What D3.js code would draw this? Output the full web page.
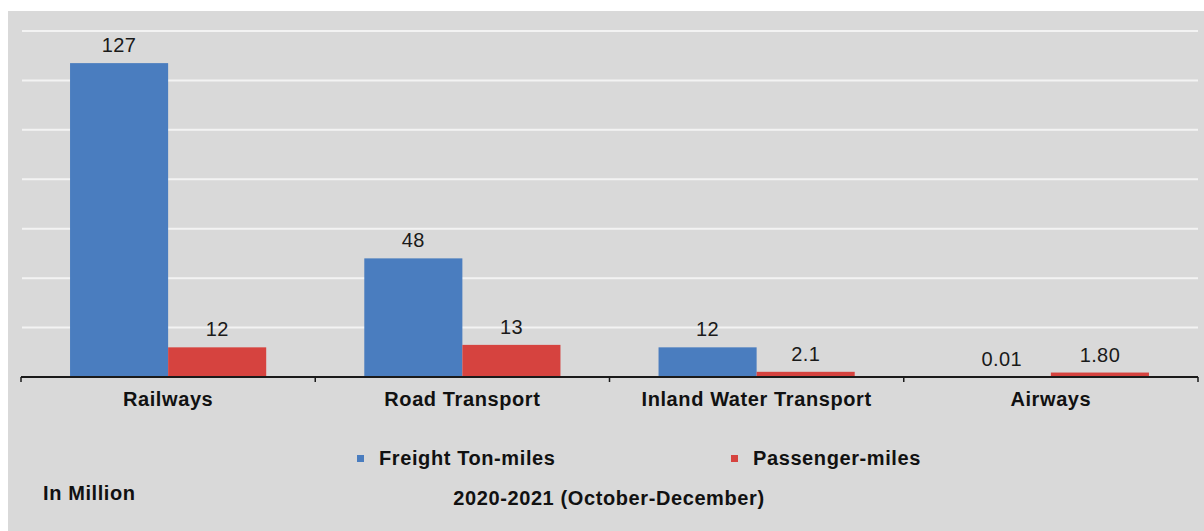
<!DOCTYPE html>
<html><head><meta charset="utf-8">
<script src="https://cdn.jsdelivr.net/npm/d3@7"></script>
<style>body{margin:0;background:#fff}svg{display:block}text{font-family:"Liberation Sans",Arial,sans-serif}</style>
</head><body><svg id="c" width="1204" height="531"></svg>
<script>
const categories = ["Railways", "Road Transport", "Inland Water Transport", "Airways"];
const seriesNames = ["Freight Ton-miles", "Passenger-miles"];
const freight = [127, 48, 12, 0.01];
const passenger = [12, 13, 2.1, 1.80];
const freightLabels = ["127", "48", "12", "0.01"];
const passengerLabels = ["12", "13", "2.1", "1.80"];
const gridTicks = [20, 40, 60, 80, 100, 120, 140];
const colors = ["#4a7dbf", "#d6433f"];

const svg = d3.select("#c");
svg.append("rect").attr("x", 8).attr("y", 11).attr("width", 1196).attr("height", 520).attr("fill", "#d9d9d9");

const x = d3.scaleBand().domain(categories).range([21, 1198]).paddingInner(0).paddingOuter(0);
const xs = d3.scaleBand().domain(seriesNames).range([0, x.bandwidth()]).paddingInner(0).paddingOuter(0.5);
const y = d3.scaleLinear().domain([0, 140]).range([377, 31]);

svg.append("g").selectAll("line").data(gridTicks).join("line")
  .attr("x1", 22).attr("x2", 1198)
  .attr("y1", d => y(d)).attr("y2", d => y(d))
  .attr("stroke", "#f3f3f3").attr("stroke-width", 2);

const rows = categories.map((c, i) => ({c, vals: [
  {s: seriesNames[0], v: freight[i], l: freightLabels[i], k: 0},
  {s: seriesNames[1], v: passenger[i], l: passengerLabels[i], k: 1}]}));

const g = svg.append("g").selectAll("g").data(rows).join("g")
  .attr("transform", d => `translate(${x(d.c)},0)`);
g.selectAll("rect").data(d => d.vals).join("rect")
  .attr("x", d => xs(d.s)).attr("width", xs.bandwidth())
  .attr("y", d => y(d.v)).attr("height", d => y(0) - y(d.v))
  .attr("fill", d => colors[d.k]);
g.selectAll("text").data(d => d.vals).join("text")
  .attr("x", d => xs(d.s) + xs.bandwidth() / 2)
  .attr("y", d => y(d.v) - 11)
  .attr("text-anchor", "middle").attr("font-size", 20).attr("letter-spacing", 0.4).attr("fill", "#1a1a1a")
  .text(d => d.l);

// axis
const ax = svg.append("g").attr("transform", "translate(0,377)");
ax.append("line").attr("x1", 21).attr("x2", 1198).attr("stroke", "#1a1a1a").attr("stroke-width", 2);
const bounds = categories.map(c => x(c)).concat([x.range()[1]]);
ax.selectAll("line.t").data(bounds).join("line").attr("class", "t")
  .attr("x1", d => d).attr("x2", d => d).attr("y1", 0).attr("y2", 5)
  .attr("stroke", "#1a1a1a").attr("stroke-width", 1.5);
ax.selectAll("text").data(categories).join("text")
  .attr("x", d => x(d) + x.bandwidth() / 2).attr("y", 29)
  .attr("text-anchor", "middle").attr("font-size", 20).attr("letter-spacing", 0.6).attr("font-weight", "bold").attr("fill", "#111")
  .text(d => d);

// legend
const leg = [{x: 357, k: 0}, {x: 731, k: 1}];
leg.forEach(L => {
  svg.append("rect").attr("x", L.x).attr("y", 455).attr("width", 7).attr("height", 7).attr("fill", colors[L.k]);
  svg.append("text").attr("x", L.x + 22).attr("y", 465).attr("font-size", 20).attr("letter-spacing", 0.6).attr("font-weight", "bold").attr("fill", "#111")
    .text(seriesNames[L.k]);
});

svg.append("text").attr("x", 43).attr("y", 500).attr("font-size", 20).attr("letter-spacing", 0.6).attr("font-weight", "bold").attr("fill", "#111").text("In Million");
svg.append("text").attr("x", 609).attr("y", 505).attr("text-anchor", "middle").attr("font-size", 20).attr("letter-spacing", 0.6).attr("font-weight", "bold").attr("fill", "#111").text("2020-2021 (October-December)");
</script></body></html>
